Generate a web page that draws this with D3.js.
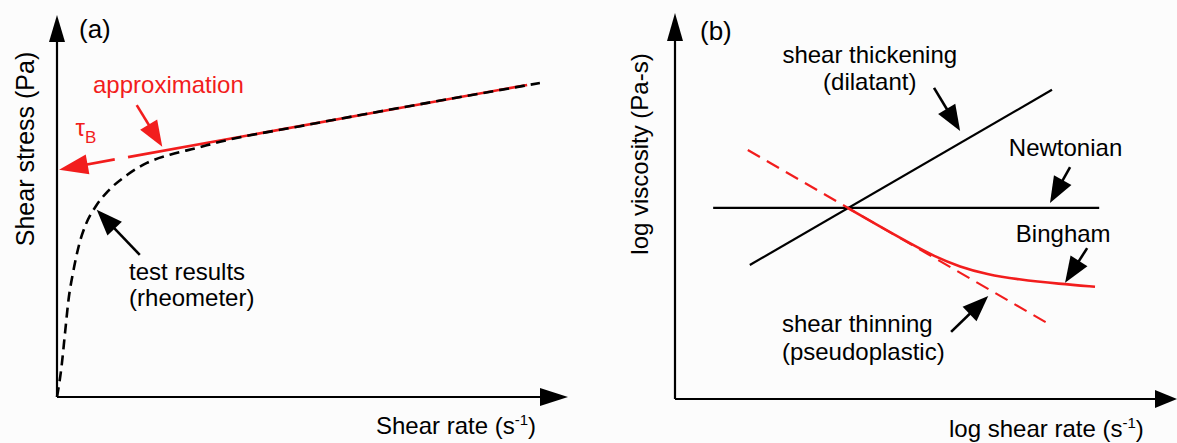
<!DOCTYPE html>
<html><head><meta charset="utf-8">
<script src="https://cdn.jsdelivr.net/npm/d3@7"></script>
<style>
html,body{margin:0;padding:0;background:#fcfcfc;}
svg{display:block;}
text{font-family:"Liberation Sans",Arial,Helvetica,sans-serif;}
</style></head><body>
<svg id="c" width="1177" height="443"></svg>
<script>
// ---- Panel (a): shear stress vs shear rate (arbitrary units 0-100) ----
const testRateA   = [0, 0.88, 1.57, 2.25, 3.13, 4.31, 5.68, 7.63, 9.98, 13.7, 17.6, 22.1, 27.4, 31.9, 47.6, 67.1, 94.5];
const testStressA = [0, 7.85, 16.75, 25.4, 32.5, 39.8, 45.3, 50.0, 53.9, 58.1, 61.3, 63.4, 65.2, 66.8, 70.9, 75.7, 82.2];
const approxRateA   = [0.4, 11.3, 13.9, 92.0];   // tau_B tip, end of extrapolation, start & end of fit
const approxStressA = [59.5, 62.2, 62.8, 81.7];

// ---- Panel (b): log viscosity vs log shear rate (arbitrary units 0-100) ----
const newtonX   = [7.6, 84.5],  newtonY   = [49.5, 49.5];
const dilatantX = [14.9, 75.1], dilatantY = [34.7, 80.1];
const thinningX = [14.5, 74.1], thinningY = [64.5, 19.7];
const binghamX  = [34.46, 40.24, 46.81, 51.59, 56.77, 62.15, 68.13, 76.69, 83.67];
const binghamY  = [49.48, 45.1, 40.3, 37.0, 34.2, 32.3, 31.0, 29.8, 29.1];

// ---- annotation labels ([x, y] in each panel's data units) ----
const labelsA = [
  {t:"approximation", x:7.05, y:79.7, c:"red"},
  {t:"test results", x:14.1, y:30.6, c:"black"},
  {t:"(rheometer)", x:14.1, y:23.8, c:"black"}
];
const arrowsA = [
  {x1:15.6, y1:76.4, x2:20.6, y2:65.5, c:"red"},
  {x1:16.2, y1:37.2, x2:7.77, y2:49.0, c:"black"}
];
const labelsB = [
  {t:"shear thickening", x:38.8, y:87.05, a:"middle"},
  {t:"(dilatant)", x:38.8, y:80.05, a:"middle"},
  {t:"Newtonian", x:66.5, y:62.95},
  {t:"Bingham", x:67.9, y:40.6},
  {t:"shear thinning", x:21.3, y:17.4},
  {t:"(pseudoplastic)", x:21.3, y:10.1}
];
const arrowsB = [
  {x1:51.6, y1:80.6, x2:56.8, y2:69.4},
  {x1:78.7, y1:60.1, x2:74.7, y2:50.8},
  {x1:82.1, y1:39.1, x2:77.7, y2:30.1},
  {x1:55.0, y1:17.4, x2:62.4, y2:26.7}
];

const RED = "#f21d1d";
const svg = d3.select("#c");
const FS = 24;

const xA = d3.scaleLinear().domain([0,100]).range([57,568]);
const yA = d3.scaleLinear().domain([0,100]).range([397,15]);
const xB = d3.scaleLinear().domain([0,100]).range([675,1177]);
const yB = d3.scaleLinear().domain([0,100]).range([399,13]);

// arrow helper in pixel space
function arrow(g, x1, y1, x2, y2, color, len, hw, sw){
  const dx = x2-x1, dy = y2-y1, L = Math.hypot(dx,dy);
  const ux = dx/L, uy = dy/L;
  const bx = x2 - ux*len, by = y2 - uy*len;
  g.append("line").attr("x1",x1).attr("y1",y1)
    .attr("x2",x2-ux*len*0.6).attr("y2",y2-uy*len*0.6)
    .attr("stroke",color).attr("stroke-width",sw);
  g.append("polygon")
    .attr("points",[[x2,y2],[bx-uy*hw,by+ux*hw],[bx+uy*hw,by-ux*hw]].map(p=>p.join(",")).join(" "))
    .attr("fill",color);
}

// ---------- Panel A ----------
const gA = svg.append("g");
arrow(gA, xA(0), yA(0), xA(0), yA(100), "black", 27, 8, 2.2);
arrow(gA, xA(0), yA(0), xA(100), yA(0), "black", 28, 9, 2.2);

const line = (xs, ys, sx, sy) => d3.line().x(i=>sx(xs[i])).y(i=>sy(ys[i]));

// red approximation line (fit part)
gA.append("path")
  .attr("d", d3.line()([[xA(approxRateA[2]),yA(approxStressA[2])],[xA(approxRateA[3]),yA(approxStressA[3])]]))
  .attr("stroke",RED).attr("stroke-width",2.6).attr("fill","none");
// extrapolation arrow to tau_B
arrow(gA, xA(approxRateA[1]), yA(approxStressA[1]), xA(approxRateA[0]), yA(approxStressA[0]), RED, 29, 10, 2.6);

// test results (dashed)
gA.append("path")
  .attr("d", d3.line().curve(d3.curveMonotoneX).x(i=>xA(testRateA[i])).y(i=>yA(testStressA[i]))(d3.range(testRateA.length)))
  .attr("stroke","black").attr("stroke-width",2.6).attr("fill","none").attr("stroke-dasharray","10,6");

arrowsA.forEach(a=>arrow(gA, xA(a.x1), yA(a.y1), xA(a.x2), yA(a.y2), a.c==="red"?RED:"black", 26, 10, 2.6));
labelsA.forEach(l=>gA.append("text").attr("x",xA(l.x)).attr("y",yA(l.y)).attr("font-size",FS)
  .attr("fill",l.c==="red"?RED:"black").text(l.t));

// tau_B label
const tau = gA.append("text").attr("x",xA(3.6)).attr("y",yA(68.3)).attr("fill",RED).attr("font-size",24);
tau.append("tspan").text("τ");
tau.append("tspan").attr("font-size",17).attr("dy",7).text("B");

gA.append("text").attr("x",79).attr("y",38).attr("font-size",26).text("(a)");
gA.append("text").attr("transform","translate(34,149) rotate(-90)").attr("text-anchor","middle")
  .attr("font-size",25).text("Shear stress (Pa)");
const xtA = gA.append("text").attr("x",376).attr("y",434).attr("font-size",FS);
xtA.append("tspan").text("Shear rate (s");
xtA.append("tspan").attr("font-size",15).attr("dy",-9).text("-1");
xtA.append("tspan").attr("dy",9).text(")");

// ---------- Panel B ----------
const gB = svg.append("g");
arrow(gB, xB(0), yB(0), xB(0), yB(100), "black", 28, 8, 2.2);
arrow(gB, xB(0), yB(0), xB(100), yB(0), "black", 22, 9, 2.2);

gB.append("path").attr("d", line(newtonX,newtonY,xB,yB)([0,1]))
  .attr("stroke","black").attr("stroke-width",2.2).attr("fill","none");
gB.append("path").attr("d", line(dilatantX,dilatantY,xB,yB)([0,1]))
  .attr("stroke","black").attr("stroke-width",2.2).attr("fill","none");
gB.append("path").attr("d", line(thinningX,thinningY,xB,yB)([0,1]))
  .attr("stroke",RED).attr("stroke-width",2.2).attr("fill","none").attr("stroke-dasharray","14,8");
gB.append("path").attr("d", d3.line().curve(d3.curveBasis).x(i=>xB(binghamX[i])).y(i=>yB(binghamY[i]))(d3.range(binghamX.length)))
  .attr("stroke",RED).attr("stroke-width",2.6).attr("fill","none");

arrowsB.forEach(a=>arrow(gB, xB(a.x1), yB(a.y1), xB(a.x2), yB(a.y2), "black", 26, 10, 2.6));
labelsB.forEach(l=>gB.append("text").attr("x",xB(l.x)).attr("y",yB(l.y)).attr("font-size",FS)
  .attr("text-anchor",l.a||"start").text(l.t));

gB.append("text").attr("x",700).attr("y",40).attr("font-size",26).text("(b)");
gB.append("text").attr("transform","translate(648,154) rotate(-90)").attr("text-anchor","middle")
  .attr("font-size",FS).text("log viscosity (Pa-s)");
const xtB = gB.append("text").attr("x",949).attr("y",437).attr("font-size",FS);
xtB.append("tspan").text("log shear rate (s");
xtB.append("tspan").attr("font-size",15).attr("dy",-9).text("-1");
xtB.append("tspan").attr("dy",9).text(")");
</script>
</body></html>
